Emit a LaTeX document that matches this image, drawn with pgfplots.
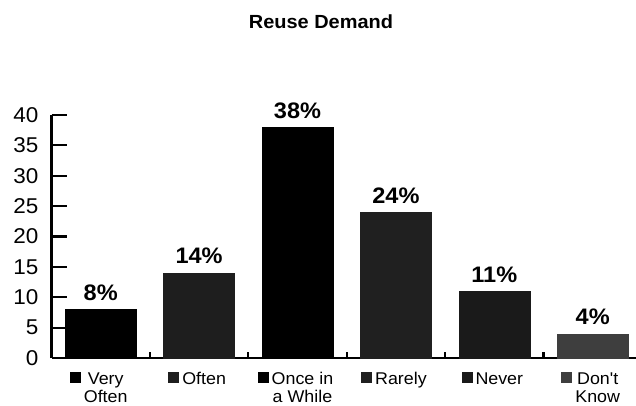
\documentclass[border=0pt]{standalone}
\usepackage{fontspec}
\setmainfont{Liberation Sans}[FakeStretch=1.05, Ligatures=TeXOff]
\usepackage{pgfplots}
\pgfplotsset{compat=1.18}

\definecolor{cVery}{HTML}{000000}
\definecolor{cOften}{HTML}{1E1E1E}
\definecolor{cOnce}{HTML}{000000}
\definecolor{cRarely}{HTML}{202020}
\definecolor{cNever}{HTML}{1A1A1A}
\definecolor{cDont}{HTML}{3E3E3E}

% category label: coloured key square followed by centred text lines
\newcommand\catlabel[2]{\raisebox{1.5pt}{\textcolor{#1}{\rule{11pt}{11pt}}}\hspace{3pt}\begin{tabular}[t]{@{}c@{}}#2\end{tabular}}

\begin{document}
\begin{tikzpicture}
\path[use as bounding box] (0pt,0pt) rectangle (636pt,-405pt);
\node[font=\bfseries\fontsize{19}{21}\selectfont, anchor=base] at (321pt,-28pt) {Reuse Demand};
\begin{axis}[
  at={(51.5pt,-358pt)}, anchor=south west,
  scale only axis, width=584.5pt, height=243pt,
  xmin=-0.5, xmax=5.44, ymin=0, ymax=40,
  axis x line=bottom, axis y line=left,
  axis line style={-, line width=2.2pt},
  ybar, bar width=71pt, bar shift=0pt,
  tick align=inside,
  major tick length=15pt, minor tick length=6pt,
  every tick/.style={black, line width=2.2pt},
  xtick={0,...,5},
  minor xtick={0.5,1.5,2.5,3.5,4.5},
  major x tick style={draw=none},
  xticklabels={
    {\catlabel{cVery}{Very\\Often}},
    {\catlabel{cOften}{Often}},
    {\catlabel{cOnce}{Once in\\a While}},
    {\catlabel{cRarely}{Rarely}},
    {\catlabel{cNever}{Never}},
    {\catlabel{cDont}{Don't\\Know}}},
  xticklabel style={font=\fontsize{17}{18}\selectfont, anchor=north, inner sep=0pt, yshift=-13.2pt, xshift=-2pt},
  ytick={0,5,...,40},
  yticklabel style={font=\fontsize{21.4}{24}\selectfont, anchor=east, inner sep=0pt, xshift=-13pt},
  /pgf/number format/assume math mode=true,
  nodes near coords={\pgfmathprintnumber{\pgfplotspointmeta}\%},
  nodes near coords style={font=\bfseries\fontsize{22.4}{24}\selectfont, anchor=base, inner sep=0pt, yshift=9pt, text=black},
]
\addplot[fill=cVery, draw=cVery] coordinates {(0,8)};
\addplot[fill=cOften, draw=cOften] coordinates {(1,14)};
\addplot[fill=cOnce, draw=cOnce] coordinates {(2,38)};
\addplot[fill=cRarely, draw=cRarely] coordinates {(3,24)};
\addplot[fill=cNever, draw=cNever] coordinates {(4,11)};
\addplot[fill=cDont, draw=cDont] coordinates {(5,4)};
\end{axis}
\end{tikzpicture}
\end{document}
